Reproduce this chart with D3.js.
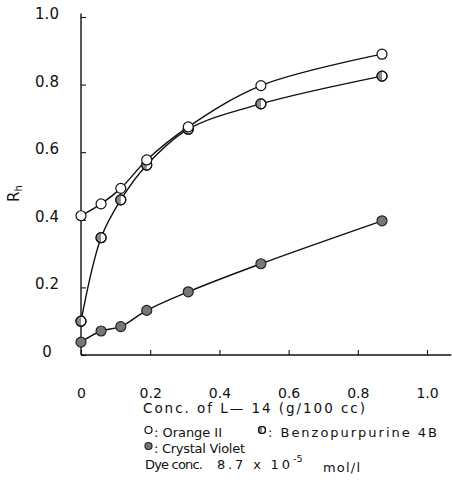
<!DOCTYPE html>
<html>
<head>
<meta charset="utf-8">
<script src="https://cdn.jsdelivr.net/npm/d3@7/dist/d3.min.js"></script>
<style>
  html, body { margin: 0; padding: 0; background: #fff; }
  svg { display: block; }
  text { font-family: "DejaVu Sans", sans-serif; fill: #111; }
</style>
</head>
<body>
<svg id="chart" width="452" height="484"></svg>
<script>
// Concentration of L-14 (g/100 cc), shared by all three dyes
const conc = [0, 0.058, 0.115, 0.19, 0.31, 0.52, 0.87];
// R_h for each dye
const orangeII = [0.412, 0.447, 0.493, 0.577, 0.675, 0.797, 0.890];
const benzopurpurine = [0.100, 0.347, 0.459, 0.562, 0.668, 0.743, 0.825];
const crystalViolet = [0.038, 0.071, 0.084, 0.132, 0.187, 0.270, 0.397];

const xTicks = [0, 0.2, 0.4, 0.6, 0.8, 1.0];
const yTicks = [0, 0.2, 0.4, 0.6, 0.8, 1.0];
const xTitle = "Conc. of L\u2014 14  (g/100 cc)";
const yTitle = "R";
const yTitleSub = "h";
const legendNames = ["Orange II", "Benzopurpurine 4B", "Crystal Violet"];
const dyeNote = ["Dye conc.", "8.7 x 10", "-5", "mol/l"];

const svg = d3.select("#chart");
const x = d3.scaleLinear().domain([0, 1]).range([81, 427]);
const y = d3.scaleLinear().domain([0, 1]).range([355, 17]);
const fmt = d => d === 0 ? "0" : d3.format(".1f")(d);

// axis lines
svg.append("line")
  .attr("x1", x(0)).attr("x2", x(0))
  .attr("y1", y(0)).attr("y2", y(1.01))
  .attr("stroke", "#111").attr("stroke-width", 1.4);
svg.append("line")
  .attr("x1", x(0)).attr("x2", x(1.07))
  .attr("y1", y(0)).attr("y2", y(0))
  .attr("stroke", "#111").attr("stroke-width", 1.4);

// y axis: inward ticks, centred labels
const yAxis = svg.append("g")
  .attr("transform", `translate(${x(0)},0)`)
  .call(d3.axisLeft(y).tickValues(yTicks).tickFormat(fmt).tickSizeInner(-5).tickSizeOuter(0));
yAxis.select(".domain").remove();
yAxis.selectAll(".tick line").attr("stroke", "#111").attr("stroke-width", 1.1);
yAxis.selectAll(".tick text")
  .attr("text-anchor", "middle").attr("x", -34).attr("dy", "0.1em")
  .attr("font-size", 15).attr("fill", "#111");

// x axis: upward ticks
const xAxis = svg.append("g")
  .attr("transform", `translate(0,${y(0)})`)
  .call(d3.axisBottom(x).tickValues(xTicks).tickFormat(fmt).tickSizeInner(-5).tickSizeOuter(0));
xAxis.select(".domain").remove();
xAxis.selectAll(".tick line").attr("stroke", "#111").attr("stroke-width", 1.1);
xAxis.selectAll(".tick text")
  .attr("y", 43).attr("dy", 0)
  .attr("font-size", 14).attr("fill", "#111");

// axis titles
svg.append("text")
  .attr("x", 143).attr("y", 413)
  .attr("font-size", 13.5)
  .attr("textLength", 222).attr("lengthAdjust", "spacing")
  .text(xTitle);

const yt = svg.append("text")
  .attr("transform", "translate(19,202) rotate(-90)")
  .attr("font-size", 15);
yt.append("tspan").text(yTitle);
yt.append("tspan").attr("font-size", 10).attr("dy", 3).text(yTitleSub);

// curves
const line = d3.line()
  .x((d, i) => x(conc[i]))
  .y(d => y(d))
  .curve(d3.curveCatmullRom.alpha(0.5));

[orangeII, benzopurpurine, crystalViolet].forEach(s => {
  svg.append("path")
    .attr("d", line(s))
    .attr("fill", "none")
    .attr("stroke", "#111")
    .attr("stroke-width", 1.4);
});

// marker styles
function openMarker(g, r) {
  g.append("circle").attr("r", r).attr("fill", "#fff").attr("stroke", "#111").attr("stroke-width", 1.2);
}
function halfMarker(g, r) {
  g.append("circle").attr("r", r).attr("fill", "#fff").attr("stroke", "#111").attr("stroke-width", 1.2);
  g.append("path")
    .attr("d", d3.arc()({ innerRadius: 0, outerRadius: r, startAngle: Math.PI, endAngle: 2 * Math.PI }))
    .attr("fill", "#888");
  g.append("circle").attr("r", r).attr("fill", "none").attr("stroke", "#111").attr("stroke-width", 1.2);
}
function filledMarker(g, r) {
  g.append("circle").attr("r", r).attr("fill", "#777").attr("stroke", "#222").attr("stroke-width", 1.2);
}

function drawMarkers(series, draw) {
  series.forEach((v, i) => {
    const g = svg.append("g").attr("transform", `translate(${x(conc[i])},${y(v)})`);
    draw(g, 5);
  });
}
drawMarkers(crystalViolet, filledMarker);
drawMarkers(benzopurpurine, halfMarker);
drawMarkers(orangeII, openMarker);

// legend
const legend = [
  { draw: openMarker, mx: 148.5, my: 430, tx: 154, ty: 437, w: 68, name: legendNames[0] },
  { draw: halfMarker, mx: 262, my: 430, tx: 268, ty: 437, w: 169, name: legendNames[1] },
  { draw: filledMarker, mx: 148.5, my: 446, tx: 154, ty: 453, w: 91, name: legendNames[2] }
];
legend.forEach(l => {
  const g = svg.append("g").attr("transform", `translate(${l.mx},${l.my})`);
  l.draw(g, 3.5);
  svg.append("text")
    .attr("x", l.tx).attr("y", l.ty)
    .attr("font-size", 13)
    .attr("textLength", l.w).attr("lengthAdjust", "spacing")
    .text(": " + l.name);
});

svg.append("text").attr("x", 145).attr("y", 469).attr("font-size", 13)
  .attr("textLength", 58).attr("lengthAdjust", "spacing").text(dyeNote[0]);
svg.append("text").attr("x", 217).attr("y", 469).attr("font-size", 13)
  .attr("textLength", 73).attr("lengthAdjust", "spacing").text(dyeNote[1]);
svg.append("text").attr("x", 293).attr("y", 462).attr("font-size", 9.5).text(dyeNote[2]);
svg.append("text").attr("x", 323).attr("y", 472).attr("font-size", 13)
  .attr("textLength", 37).attr("lengthAdjust", "spacing").text(dyeNote[3]);
</script>
</body>
</html>
